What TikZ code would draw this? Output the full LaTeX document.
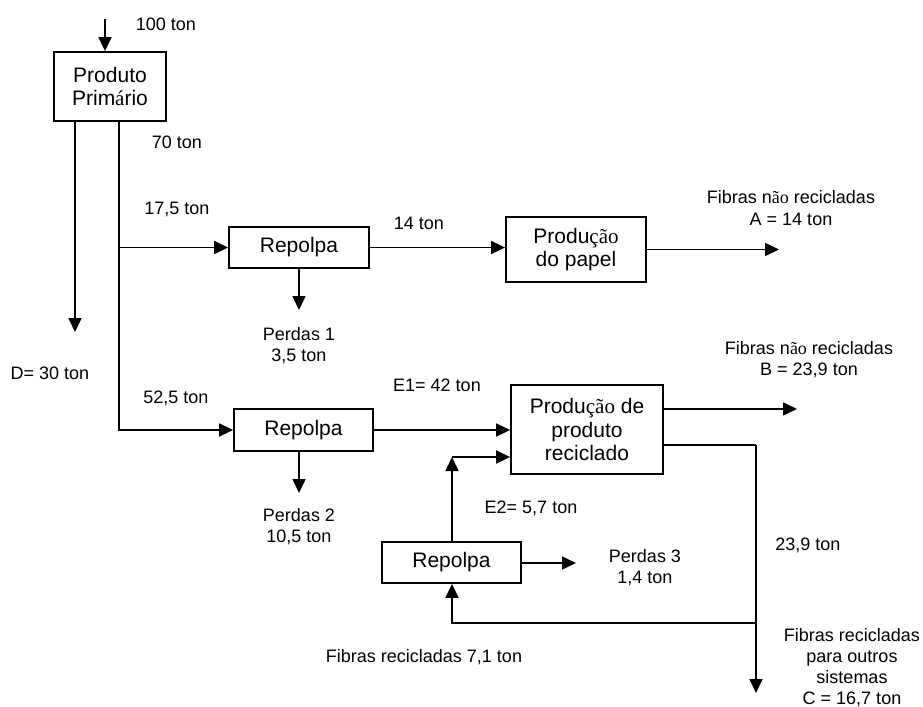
\documentclass[tikz,border=0pt]{standalone}
\usepackage{fontspec}
\setmainfont{Liberation Sans}
\newfontfamily\srf{Liberation Serif}
\usetikzlibrary{arrows.meta}
\tikzset{
  box/.style={draw, line width=0.9pt, rectangle, align=center, inner sep=0pt,
    font=\fontsize{10.5}{11.6}\selectfont},
  lbl/.style={align=center, inner sep=0pt, font=\fontsize{9}{10.6}\selectfont},
  arr/.style={line width=0.8pt, -{Triangle[length=7pt,width=6.5pt]}},
  ln/.style={line width=0.8pt}
}
\begin{document}
\begin{tikzpicture}[x=0.5pt, y=-0.5pt]
\path[use as bounding box, fill=white] (0,0) rectangle (923,707);

% boxes
\node[box, minimum width=56pt, minimum height=34.5pt] (pp) at (110,86.5) {Produto\\Prim{\srf á}rio};
\node[box, minimum width=70pt, minimum height=20.5pt] (r1) at (299,247.5) {Repolpa};
\node[box, minimum width=70pt, minimum height=32.5pt] (pap) at (576,249.5) {Produ{\srf ção}\\do papel};
\node[box, minimum width=69.5pt, minimum height=21pt] (r2) at (303.5,430) {Repolpa};
\node[box, minimum width=76pt, minimum height=44.5pt] (rec) at (587,429.5) {Produ{\srf ção} de\\produto\\reciclado};
\node[box, minimum width=69.5pt, minimum height=20.5pt] (r3) at (451.5,562.5) {Repolpa};

% coordinates
\coordinate (top) at (105,19);
\coordinate (dx) at (75,332);
\coordinate (mainx) at (119,0);
\coordinate (p1) at (299,310);
\coordinate (p2) at (299,493);
\coordinate (outA) at (779,249.5);
\coordinate (e2c) at (452,457);
\coordinate (p3) at (576,563);
\coordinate (outB) at (797,409);
\coordinate (cx) at (756,445);
\coordinate (cEnd) at (756,693);
\coordinate (fr) at (756,623);

% connectors
\draw[arr] (top) -- (top |- pp.north);
\draw[arr] (pp.south -| dx) -- (dx);
\draw[arr] (pp.south -| mainx) |- (r2.west);
\draw[arr] (mainx |- r1.west) -- (r1.west);
\draw[arr] (r1.south -| p1) -- (p1);
\draw[arr] (r1.east) -- (r1.east -| pap.west);
\draw[arr] (pap.east) -- (outA);
\draw[arr] (r2.south -| p2) -- (p2);
\draw[arr] (r2.east) -- (r2.east -| rec.west);
\draw[arr] (r3.north -| e2c) -- (e2c);
\draw[arr] (e2c) -- (e2c -| rec.west);
\draw[arr] (r3.east |- p3) -- (p3);
\draw[arr] (rec.east |- outB) -- (outB);
\draw[ln] (rec.east |- cx) -- (cx);
\draw[arr] (cx) -- (cEnd);
\draw[arr] (fr) -| (e2c |- r3.south);

% labels
\node[lbl] (l100) at (166,24) {100 ton};
\node[lbl] (l70) at (177,142) {70 ton};
\node[lbl] (lD) at (50,373) {D= 30 ton};
\node[lbl] (l175) at (177,209) {17,5 ton};
\node[lbl] (l14) at (419,223) {14 ton};
\node[lbl] (lP1) at (299,346) {Perdas 1\\3,5 ton};
\node[lbl] (lA) at (791,208) {Fibras n{\srf ão} recicladas\\A = 14 ton};
\node[lbl] (l525) at (176,398) {52,5 ton};
\node[lbl] (lP2) at (299,527) {Perdas 2\\10,5 ton};
\node[lbl] (lE1) at (437,385) {E1= 42 ton};
\node[lbl] (lB) at (809,360) {Fibras n{\srf ão} recicladas\\B = 23,9 ton};
\node[lbl] (lE2) at (531,508) {E2= 5,7 ton};
\node[lbl] (lP3) at (645,568) {Perdas 3\\1,4 ton};
\node[lbl] (l239) at (808,545) {23,9 ton};
\node[lbl] (lC) at (852,667.5) {Fibras recicladas\\para outros\\sistemas\\C = 16,7 ton};
\node[lbl] (lFR) at (424,657) {Fibras recicladas 7,1 ton};
\end{tikzpicture}
\end{document}
